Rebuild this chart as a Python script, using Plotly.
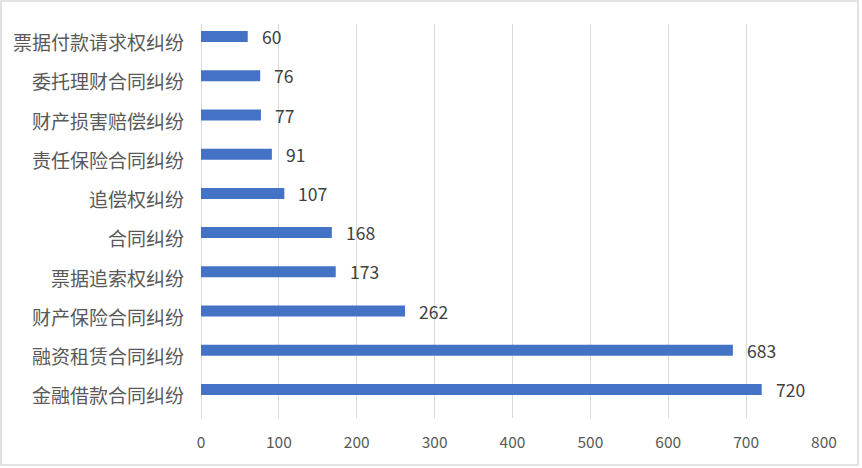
import plotly.graph_objects as go

# --- DATA (top to bottom) ---
categories = [
    "票据付款请求权纠纷", "委托理财合同纠纷", "财产损害赔偿纠纷", "责任保险合同纠纷",
    "追偿权纠纷", "合同纠纷", "票据追索权纠纷", "财产保险合同纠纷",
    "融资租赁合同纠纷", "金融借款合同纠纷",
]
counts = [60, 76, 77, 91, 107, 168, 173, 262, 683, 720]
x_ticks = [0, 100, 200, 300, 400, 500, 600, 700, 800]

W, H = 862, 468
L, R, T, B = 201, 38, 24, 50
pw, ph = W - L - R, H - T - B

FONT = "Noto Sans CJK SC, Microsoft YaHei, sans-serif"
GREY = "#595959"
BAR = "#4472C4"

fig = go.Figure(go.Bar(
    x=counts,
    y=categories,
    orientation="h",
    marker=dict(color=BAR, line=dict(width=0)),
    width=0.28,
    offset=-0.32,
    hoverinfo="x+y",
))

# value labels just right of each bar, lifted to the bar centre
for c, v in zip(categories, counts):
    fig.add_annotation(
        x=v, y=c, text=str(v), showarrow=False,
        xanchor="left", yanchor="middle", xshift=12, yshift=7,
        font=dict(family=FONT, size=17.5, color="#404040"),
    )

# light border round the whole chart
fig.add_shape(
    type="rect", xref="paper", yref="paper",
    x0=(-L + 1) / pw, x1=1 + (R - 4) / pw,
    y0=-(B - 3) / ph, y1=1 + (T - 1) / ph,
    line=dict(color="#D9D9D9", width=1.5),
)

fig.update_layout(
    width=W, height=H,
    margin=dict(l=L, r=R, t=T, b=B, pad=0),
    plot_bgcolor="white",
    paper_bgcolor="white",
    showlegend=False,
    font=dict(family=FONT, color=GREY),
    xaxis=dict(
        range=[0, 800],
        tickvals=x_ticks,
        showgrid=True, gridcolor="#D9D9D9", gridwidth=1,
        zeroline=True, zerolinecolor="#D9D9D9", zerolinewidth=1,
        showline=False,
        tickfont=dict(family=FONT, size=15.5, color=GREY),
        ticklabelstandoff=13,
        fixedrange=True,
    ),
    yaxis=dict(
        autorange="reversed",
        showgrid=False, zeroline=False, showline=False,
        tickfont=dict(family=FONT, size=19, color=GREY),
        ticklabelstandoff=16,
        fixedrange=True,
    ),
)

# the page body has a default 8px margin; drop it so the chart fills the window
fig.write_html(
    "out.html",
    config={"displayModeBar": False},
    post_script="document.body.style.margin='0';",
)
